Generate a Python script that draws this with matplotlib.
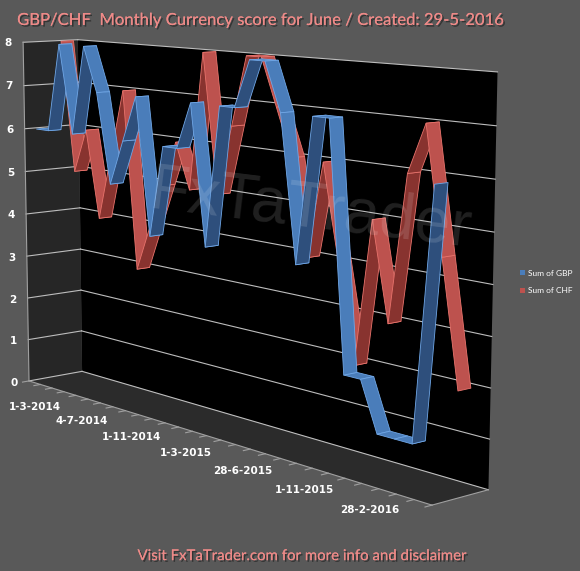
import numpy as np
import matplotlib
matplotlib.use('Agg')
import matplotlib.pyplot as plt
from mpl_toolkits.mplot3d.art3d import Poly3DCollection
from matplotlib.patches import Patch
import matplotlib.patheffects as pe

# ---------------- data ----------------
n_points = 28                      # monthly scores, 1-3-2014 ... 2016
tick_positions = [0, 4, 8, 12, 16, 20, 24]
tick_labels = ['1-3-2014', '4-7-2014', '1-11-2014', '1-3-2015',
               '28-6-2015', '1-11-2015', '28-2-2016']
gbp = [6, 6, 8, 6, 8, 7, 5, 6, 7, 4, 6, 6, 7, 4, 7, 7, 8, 8, 7, 4, 7, 7, 2, 2, 1, 1, 1, 6]
chf = [8, 5, 6, 4, 5.5, 7, 3, 4, 5, 6, 5, 8, 5, 6.5, 8, 8, 7, 6, 4, 6, 4, 2, 5, 3, 6, 7, 4.5, 2]
series_names = ['Sum of GBP', 'Sum of CHF']
value_ticks = list(range(0, 9))

# ---------------- style ----------------
BG = '#595959'
TITLE_C = '#EE8A88'
BLUE_L, BLUE_D, BLUE_E = '#4A7DBA', '#2E4F7C', '#6FA6E6'
RED_L, RED_D, RED_E = '#BD524E', '#88332F', '#E8736C'

W_PX, H_PX = 580, 571
fig = plt.figure(figsize=(W_PX / 100, H_PX / 100), dpi=100, facecolor=BG)
ax = fig.add_axes([0.0, 0.0, 1.0, 1.0], projection='3d')
ax.set_facecolor((0, 0, 0, 0))
ax.patch.set_alpha(0)
ax.set_axis_off()
ax.computed_zorder = False

x0, x1 = -0.5, n_points - 0.5
zmax = value_ticks[-1]
ax.set_xlim(x0, x1)
ax.set_ylim(0, 1)
ax.set_zlim(0, zmax)

# ---------- camera fitted to the reference wall corners (layout only) ----------
corner_world = np.array([[x0, 1, 0], [x0, 1, zmax], [x1, 1, zmax], [x1, 1, 0],
                         [x0, 0, 0], [x0, 0, zmax], [x1, 0, 0]], dtype=float)
corner_img = np.array([[80, 372], [80, 40], [497, 72], [489, 490],
                       [30, 380], [22, 42], [432, 505]], dtype=float)


def set_view(p):
    elev, azim, f, ry, rz = p
    ax.view_init(elev=elev, azim=azim)
    ax.set_proj_type('persp', focal_length=f)
    ax.set_box_aspect((1.0, ry, rz), zoom=1.0)


def project(pts):
    M = ax.get_proj()
    pts = np.atleast_2d(np.asarray(pts, dtype=float))
    v = np.c_[pts, np.ones(len(pts))].T
    w = M @ v
    return ax.transData.transform((w[:2] / w[3]).T)


def fit_err(p):
    elev, azim, f, ry, rz = p
    if f < 0.15 or ry < 0.01 or rz < 0.05 or not (-5 < elev < 45):
        return 1e18, None
    set_view(p)
    d = project(corner_world)
    q = np.c_[corner_img[:, 0], H_PX - corner_img[:, 1]]
    pm, qm = d.mean(0), q.mean(0)
    dc, qc = d - pm, q - qm
    s = (dc * qc).sum() / (dc * dc).sum()
    t = qm - s * pm
    return ((s * d + t - q) ** 2).sum(), (s, t)


params = np.array([10.0, -52.0, 0.5, 0.15, 0.62])
set_view(params)
fig.canvas.draw()
try:
    steps = np.array([3.0, 5.0, 0.15, 0.04, 0.1])
    best, _ = fit_err(params)
    for _ in range(300):
        improved = False
        for k in range(len(params)):
            for sgn in (1, -1):
                cand = params.copy()
                cand[k] += sgn * steps[k]
                e, _ = fit_err(cand)
                if e < best:
                    best, params, improved = e, cand, True
        if not improved:
            steps *= 0.5
            if steps[0] < 0.01:
                break
    _, (s, t) = fit_err(params)
    set_view(params)
    bb = ax.get_position()
    bx, by, bw, bh = bb.x0 * W_PX, bb.y0 * H_PX, bb.width * W_PX, bb.height * H_PX
    ax.set_position([(s * bx + t[0]) / W_PX, (s * by + t[1]) / H_PX,
                     s * bw / W_PX, s * bh / H_PX])
except Exception:
    set_view(params)
fig.canvas.draw()

# walls
back = [[(x0, 1, 0), (x1, 1, 0), (x1, 1, zmax), (x0, 1, zmax)]]
left = [[(x0, 0, 0), (x0, 1, 0), (x0, 1, zmax), (x0, 0, zmax)]]
floor = [[(x0, 0, 0), (x1, 0, 0), (x1, 1, 0), (x0, 1, 0)]]
for poly, col in [(back, '#000000'), (left, '#262626'), (floor, '#2B2B2B')]:
    pc = Poly3DCollection(poly, facecolors=col, edgecolors='none')
    pc.set_zorder(0)
    ax.add_collection3d(pc)

# gridlines on back and side wall
for v in value_ticks:
    ax.plot([x0, x1], [1, 1], [v, v], color='#BDBDBD', lw=0.8, zorder=1)
    ax.plot([x0, x0], [0, 1], [v, v], color='#BDBDBD', lw=0.8, zorder=1)
# axis edges
ax.plot([x0, x1], [0, 0], [0, 0], color='#A0A0A0', lw=0.8, zorder=1)
ax.plot([x0, x0], [0, 0], [0, zmax], color='#A0A0A0', lw=0.8, zorder=1)
ax.plot([x1, x1], [0, 1], [0, 0], color='#A0A0A0', lw=0.8, zorder=1)
# category tick marks
for k in range(n_points + 1):
    xt = x0 + k
    ax.plot([xt, xt], [0, -0.12], [0, 0], color='#A0A0A0', lw=0.8, zorder=1)

# value labels (anchored at the projected front edge of the side wall)
for v in value_ticks:
    dx, dy = project([(x0, -0.2, v)])[0]
    fig.text(dx / W_PX, dy / H_PX, str(v), color='white', fontsize=7.5,
             fontweight='bold', ha='right', va='center')
# category labels (a fixed distance below the projected floor edge)
for p, lab in zip(tick_positions, tick_labels):
    dx, dy = project([(p, 0, 0)])[0]
    fig.text(dx / W_PX, (dy - 24) / H_PX, lab, color='white', fontsize=7.5,
             fontweight='bold', ha='center', va='center')


def ribbon(vals, y0, y1, light, dark, edge, z):
    polys, cols = [], []
    for i in range(len(vals) - 1):
        a, b = vals[i], vals[i + 1]
        polys.append([(i, y0, a), (i, y1, a), (i + 1, y1, b), (i + 1, y0, b)])
        cols.append(dark if b > a else light)
    pc = Poly3DCollection(polys, facecolors=cols, edgecolors=edge, linewidths=0.6)
    pc.set_zorder(z)
    ax.add_collection3d(pc)


ribbon(chf, 0.58, 0.81, RED_L, RED_D, RED_E, 2)
ribbon(gbp, 0.11, 0.34, BLUE_L, BLUE_D, BLUE_E, 3)

# watermark
fig.text(0.535, 0.632, 'FxTaTrader', fontsize=46, color='white', alpha=0.13,
         rotation=-7, ha='center', va='center',
         family=['Liberation Sans Narrow', 'Liberation Sans', 'DejaVu Sans'])

shadow = [pe.withSimplePatchShadow(offset=(1.2, -1.2), shadow_rgbFace='#2A2A2A', alpha=0.8), pe.Normal()]
fig.text(0.448, 0.965, 'GBP/CHF  Monthly Currency score for June / Created: 29-5-2016',
         fontsize=12, color=TITLE_C, ha='center', va='center', family='Lato',
         path_effects=shadow)
fig.text(0.521, 0.026, 'Visit FxTaTrader.com for more info and disclaimer',
         fontsize=10.8, color=TITLE_C, ha='center', va='center', family='Lato',
         path_effects=shadow)

handles = [Patch(facecolor=BLUE_L, edgecolor='none'), Patch(facecolor=RED_L, edgecolor='none')]
leg = fig.legend(handles, series_names, loc='center left', bbox_to_anchor=(0.884, 0.506),
                 frameon=False, prop={'family': 'Lato', 'size': 6}, labelcolor='white',
                 handlelength=0.6, handleheight=0.6, handletextpad=0.3, labelspacing=1.3)

fig.savefig('out.png', dpi=100, facecolor=BG)
